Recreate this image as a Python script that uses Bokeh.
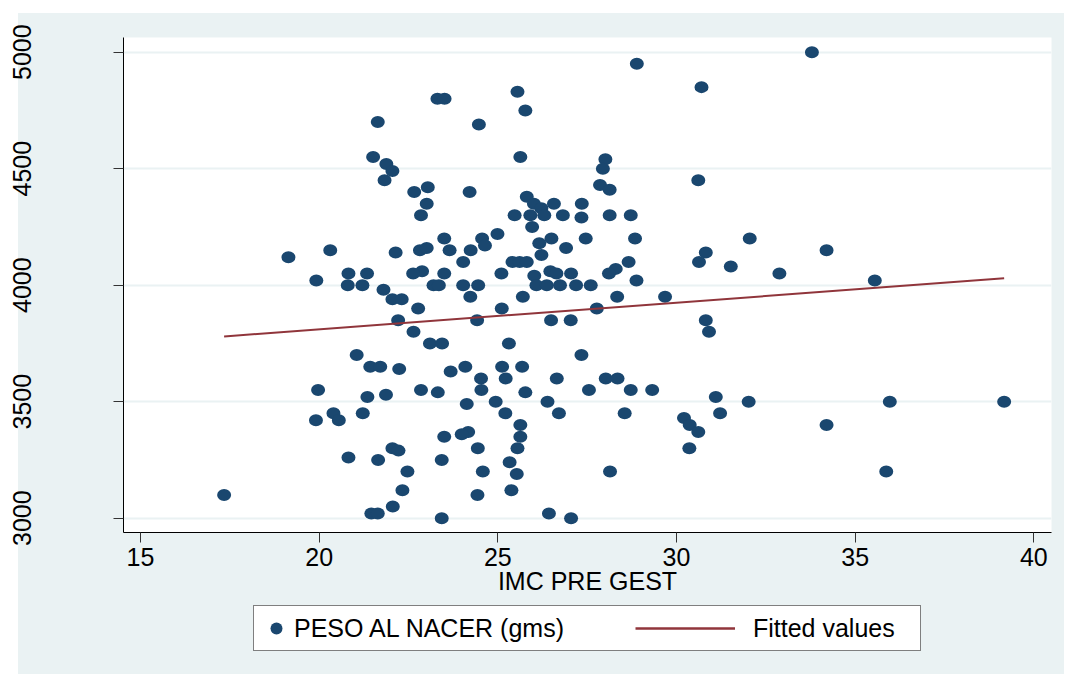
from bokeh.plotting import figure
from bokeh.layouts import column
from bokeh.models import ColumnDataSource, Range1d, FixedTicker, Legend, LegendItem
from bokeh.embed import file_html
from bokeh.resources import INLINE

# ---- data ----
imc = [33.79, 28.89, 30.70, 23.31, 23.51, 25.55, 25.77, 21.64, 24.47, 21.51,
       25.63, 28.01, 27.94, 21.88, 22.05, 21.83, 30.61, 27.86, 28.13, 23.04,
       22.66, 24.21, 25.81, 23.01, 26.01, 26.57, 27.35, 26.22, 22.85, 25.47,
       25.91, 26.30, 26.82, 27.34, 28.13, 28.72, 25.96, 24.99, 23.50, 24.56,
       26.50, 27.46, 28.84, 32.05, 26.16, 24.64, 26.91, 22.82, 23.01, 23.65,
       24.24, 20.31, 34.20, 22.14, 30.82, 26.22, 19.14, 24.03, 25.41, 25.61,
       25.81, 28.66, 30.63, 31.52, 28.30, 26.47, 22.88, 22.63, 23.50, 20.82,
       21.34, 25.10, 26.64, 27.05, 28.11, 32.88, 26.02, 19.92, 28.88, 35.55,
       20.80, 21.21, 23.20, 23.35, 24.03, 24.45, 26.08, 26.37, 26.74, 27.19,
       27.60, 21.80, 22.05, 22.31, 24.23, 25.70, 28.34, 29.68, 22.77, 25.11,
       27.77, 22.21, 24.42, 26.49, 27.04, 30.82, 22.64, 30.91, 23.10, 23.44,
       25.31, 21.05, 27.34, 21.43, 21.71, 22.24, 24.09, 25.12, 25.68, 23.68,
       24.53, 25.22, 26.65, 28.02, 28.35, 19.97, 22.85, 24.54, 27.55, 28.72,
       29.32, 23.32, 25.77, 21.35, 21.87, 31.10, 24.94, 26.39, 32.02, 35.97,
       39.17, 24.13, 20.40, 21.22, 25.21, 26.71, 28.55, 31.22, 30.21, 19.91,
       20.55, 30.37, 25.63, 34.20, 30.61, 24.17, 23.99, 23.50, 25.63, 22.05,
       22.22, 24.44, 25.55, 30.36, 20.82, 21.65, 23.43, 25.33, 22.47, 24.58,
       28.14, 35.87, 25.53, 22.33, 25.38, 17.34, 24.43, 22.06, 21.46, 21.64,
       26.43, 23.43, 27.05]
peso = [5000, 4950, 4850, 4800, 4800, 4830, 4750, 4700, 4690, 4550,
        4550, 4540, 4500, 4520, 4490, 4450, 4450, 4430, 4410, 4420,
        4400, 4400, 4380, 4350, 4350, 4350, 4350, 4330, 4300, 4300,
        4300, 4300, 4300, 4290, 4300, 4300, 4250, 4220, 4200, 4200,
        4200, 4200, 4200, 4200, 4180, 4170, 4160, 4150, 4160, 4150,
        4150, 4150, 4150, 4140, 4140, 4130, 4120, 4100, 4100, 4100,
        4100, 4100, 4100, 4080, 4070, 4060, 4060, 4050, 4050, 4050,
        4050, 4050, 4050, 4050, 4050, 4050, 4040, 4020, 4020, 4020,
        4000, 4000, 4000, 4000, 4000, 4000, 4000, 4000, 4000, 4000,
        4000, 3980, 3940, 3940, 3950, 3950, 3950, 3950, 3900, 3900,
        3900, 3850, 3850, 3850, 3850, 3850, 3800, 3800, 3750, 3750,
        3750, 3700, 3700, 3650, 3650, 3640, 3650, 3650, 3650, 3630,
        3600, 3600, 3600, 3600, 3600, 3550, 3550, 3550, 3550, 3550,
        3550, 3540, 3540, 3520, 3530, 3520, 3500, 3500, 3500, 3500,
        3500, 3490, 3450, 3450, 3450, 3450, 3450, 3450, 3430, 3420,
        3420, 3400, 3400, 3400, 3370, 3370, 3360, 3350, 3350, 3300,
        3290, 3300, 3300, 3300, 3260, 3250, 3250, 3240, 3200, 3200,
        3200, 3200, 3190, 3120, 3120, 3100, 3100, 3050, 3020, 3020,
        3020, 3000, 3000]
fit_imc = [17.34, 39.17]
fit_peso = [3780, 4030]
x_ticks = [15, 20, 25, 30, 35, 40]
y_ticks = [3000, 3500, 4000, 4500, 5000]
series_names = ["PESO AL NACER (gms)", "Fitted values"]
x_title = "IMC PRE GEST"

BG = "#eaf2f3"
DOT = "#1a476f"
FIT = "#90353b"
FONT = "Liberation Sans"
FS = "25px"


def bg_style(dx, dy):
    return {"background": f"linear-gradient({BG},{BG}) {dx}px {dy}px / "
                          f"calc(100% - {dx}px) calc(100% - {dy}px) no-repeat"}


p = figure(frame_width=928, frame_height=495,
           x_range=Range1d(14.524, 40.495), y_range=Range1d(2938.6, 5063),
           output_backend="svg", toolbar_location=None,
           min_border_left=123, min_border_right=13, min_border_top=37,
           min_border_bottom=72,
           border_fill_alpha=0, background_fill_color="white",
           outline_line_color=None, styles=bg_style(18, 13))

src = ColumnDataSource(dict(x=imc, y=peso))
dots = p.ellipse(x="x", y="y", width=14, height=12, width_units="screen",
                 height_units="screen", source=src, fill_color=DOT,
                 line_color=None)
fit_src = ColumnDataSource(dict(x=fit_imc, y=fit_peso))
fit = p.line(x="x", y="y", source=fit_src, line_color=FIT, line_width=2)

# axes
p.xaxis.ticker = FixedTicker(ticks=x_ticks)
p.yaxis.ticker = FixedTicker(ticks=y_ticks)
for ax in (p.xaxis[0], p.yaxis[0]):
    ax.axis_line_color = "black"
    ax.axis_line_width = 1
    ax.major_tick_line_color = "#333333"
    ax.major_tick_out = 10
    ax.major_tick_in = 0
    ax.minor_tick_line_color = None
    ax.major_label_text_font = FONT
    ax.major_label_text_font_size = FS
    ax.major_label_text_color = "black"
p.xaxis.major_label_standoff = 5
p.yaxis.major_label_standoff = 82
p.yaxis.major_label_orientation = "vertical"
p.xaxis.axis_label = x_title
p.xaxis.axis_label_text_font = FONT
p.xaxis.axis_label_text_font_size = FS
p.xaxis.axis_label_text_font_style = "normal"
p.xaxis.axis_label_text_color = "black"
p.xaxis.axis_label_standoff = -2

p.xgrid.grid_line_color = None
p.ygrid.grid_line_color = BG
p.ygrid.grid_line_width = 2

# ---- legend strip below the plot (legend samples reuse the series data,
#      hidden, so only their legend glyphs are drawn) ----
lf = figure(frame_width=1064, frame_height=70, x_range=Range1d(0, 1),
            y_range=Range1d(0, 1), output_backend="svg", toolbar_location=None,
            x_axis_type=None, y_axis_type=None,
            min_border_left=0, min_border_right=0, min_border_top=0,
            min_border_bottom=0, border_fill_alpha=0, background_fill_alpha=0,
            outline_line_color=None, styles=bg_style(18, 0))
lf.grid.visible = False
leg_dot = lf.scatter(x="x", y="y", source=src, marker="circle", size=13,
                     fill_color=DOT, line_color=None, visible=False)
leg_line = lf.line(x="x", y="y", source=fit_src, line_color=FIT,
                   line_width=2.5, visible=False)

leg_a = Legend(items=[LegendItem(label=series_names[0], renderers=[leg_dot])],
               location=(253, 23), orientation="horizontal",
               glyph_width=30, glyph_height=30, label_standoff=3,
               label_width=619, padding=7, margin=0,
               label_text_font=FONT, label_text_font_size=FS,
               label_text_color="black",
               border_line_color="black", border_line_width=1,
               background_fill_color="white", background_fill_alpha=1,
               inactive_fill_alpha=0)
leg_b = Legend(items=[LegendItem(label=series_names[1], renderers=[leg_line])],
               location=(635, 31), orientation="horizontal",
               glyph_width=100, glyph_height=30, label_standoff=18,
               padding=7, margin=0,
               label_text_font=FONT, label_text_font_size=FS,
               label_text_color="black",
               border_line_color=None, background_fill_alpha=0,
               inactive_fill_alpha=0)
lf.add_layout(leg_a, "center")
lf.add_layout(leg_b, "center")

layout = column(p, lf, spacing=0)
open("out.html", "w").write(file_html(layout, INLINE))
